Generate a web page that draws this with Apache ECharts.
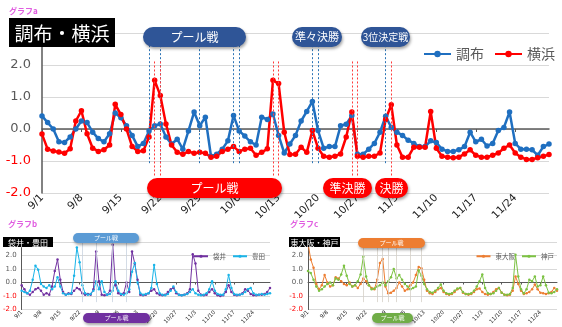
<!DOCTYPE html>
<html><head><meta charset="utf-8">
<script src="https://cdn.jsdelivr.net/npm/echarts@6/dist/echarts.min.js"></script>
<style>html,body{margin:0;padding:0;background:#fff}#c{width:562px;height:327px}</style>
</head><body><div id="c"></div>
<script>
const days = [];
[[9,30],[10,31],[11,30]].forEach(function(p){for(var d=1;d<=p[1];d++)days.push(p[0]+'/'+d);});

const chofu = [0.41,0.2,0.0,-0.4,-0.42,-0.25,0.0,0.25,0.2,-0.1,-0.3,-0.4,-0.15,0.5,0.35,0.1,-0.2,-0.55,-0.45,-0.06,
0.1,0.16,-0.25,-0.47,-0.32,-0.63,-0.06,0.53,0.1,0.37,-0.85,-0.79,-0.63,-0.37,0.42,-0.06,-0.22,-0.4,-0.5,0.37,
0.3,0.47,-0.2,-0.75,-0.47,-0.2,0.25,0.55,0.86,-0.05,-0.6,-0.55,-0.55,0.1,0.15,0.42,-0.79,-0.79,-0.63,-0.45,
-0.1,0.4,0.05,-0.1,-0.2,-0.35,-0.45,-0.55,-0.55,-0.37,-0.42,-0.63,-0.7,-0.7,-0.65,-0.55,-0.1,-0.4,-0.32,-0.53,
-0.45,-0.05,0.05,0.53,-0.45,-0.63,-0.63,-0.65,-0.82,-0.55,-0.47];
const yokohama = [-0.16,-0.63,-0.69,-0.72,-0.76,-0.62,0.25,0.57,-0.15,-0.6,-0.7,-0.65,-0.5,0.77,0.45,0.0,-0.55,-0.7,-0.68,-0.25,
1.52,1.05,0.16,-0.5,-0.73,-0.79,-0.7,-0.76,-0.73,-0.76,-0.88,-0.85,-0.7,-0.63,-0.55,-0.7,-0.63,-0.6,-0.82,-0.73,
-0.62,1.52,1.42,-0.1,-0.8,-0.79,-0.57,-0.73,-0.05,-0.6,-0.85,-0.88,-0.85,-0.78,-0.25,0.53,-0.85,-0.88,-0.85,-0.85,
-0.75,0.3,0.76,-0.5,-0.88,-0.88,-0.57,-0.57,-0.57,0.55,-0.6,-0.85,-0.88,-0.9,-0.88,-0.78,-0.65,-0.82,-0.88,-0.88,
-0.82,-0.75,-0.6,-0.5,-0.75,-0.88,-0.95,-0.95,-0.9,-0.85,-0.8];
const fukuroi = [-0.2,-0.5,-0.8,-0.9,-0.7,-0.5,-0.4,-0.6,-0.9,-0.8,-0.9,-0.3,0.85,1.7,0.2,-0.7,-0.9,-0.8,-0.85,-0.6,
-0.4,-0.5,-0.8,-0.9,-0.85,-0.9,-0.5,2.3,0.1,-0.9,-0.95,-0.9,-0.6,2.8,-0.2,-0.8,-0.9,-0.8,0.0,-0.7,
2.3,1.4,0.2,-0.9,-0.95,-0.9,-0.8,-0.6,-0.5,-0.8,-0.9,-0.95,-0.9,-0.7,-0.5,-0.4,-0.8,-0.9,-0.95,-0.9,
-0.8,-0.5,2.1,1.4,-0.6,-0.9,-0.95,-0.9,-0.7,-0.5,-0.8,-0.95,-1.0,-0.95,-0.7,-0.2,-0.7,-0.9,-0.95,-0.9,
-0.8,-0.5,-0.6,-0.85,-0.95,-0.95,-0.9,-0.9,-0.85,-0.7,-0.4];
const toyota = [-0.6,-0.7,-0.8,-0.6,0.2,1.25,0.95,-0.1,-0.3,-0.4,-0.2,-0.5,-0.3,0.4,-0.3,-0.8,-0.9,-0.85,-0.8,0.5,
2.6,1.5,-0.2,-0.8,-0.9,-0.85,-0.6,0.1,-0.5,0.1,-0.7,-0.9,-0.85,-0.6,0.1,-0.6,-0.85,-0.9,-0.8,-0.5,
0.8,1.45,0.0,-0.8,-0.9,-0.85,-0.8,-0.4,1.3,-0.1,-0.8,-0.9,-0.95,-0.85,-0.6,-0.3,-0.7,-0.9,-0.95,-0.9,
-0.85,-0.7,-0.5,-0.8,-0.9,-0.95,-0.9,-0.8,-0.5,0.1,-0.6,-0.85,-0.9,-0.9,-0.5,0.55,-0.4,-0.85,-0.9,-0.9,
-0.85,-0.7,-0.5,-0.4,-0.8,-0.9,-0.9,-0.85,-0.9,-0.85,-0.8];
const higashiOsaka = [2.9,1.7,1.1,-0.1,-0.5,-0.2,0.55,0.0,-0.3,-0.2,0.4,0.3,0.1,-0.1,-0.2,0.0,-0.3,-0.2,-0.4,-0.1,
0.3,0.1,-0.2,-0.4,-0.5,0.2,1.45,1.75,-0.3,-0.8,-0.75,-0.6,-0.4,0.0,-0.3,-0.6,-0.5,-0.2,0.0,0.55,
1.15,1.05,0.2,-0.6,-0.8,-0.85,-0.7,-0.5,-0.4,-0.7,-0.85,-0.9,-0.85,-0.7,-0.5,-0.4,-0.75,-0.85,-0.9,-0.85,
-0.7,-0.5,-0.45,-0.7,-0.85,-0.9,-0.85,-0.7,-0.5,-0.4,-0.75,-0.9,-0.95,-0.9,-0.6,0.45,-0.1,-0.6,-0.85,-0.8,
-0.7,-0.5,-0.15,-0.5,-0.75,-0.8,-0.85,-0.8,-0.7,-0.4,-0.6];
const kobe = [0.85,0.7,0.2,-0.3,-0.6,-0.5,-0.3,-0.1,0.0,-0.2,0.3,0.2,0.6,1.25,0.5,-0.1,-0.3,-0.2,0.1,0.6,
1.9,0.45,-0.2,-0.5,-0.45,-0.3,-0.2,0.0,-0.2,0.1,0.4,1.0,0.3,0.55,0.2,-0.1,-0.3,-0.5,-0.4,-0.3,
0.9,0.5,-0.1,-0.5,-0.7,-0.75,-0.6,-0.4,-0.15,-0.6,-0.8,-0.85,-0.8,-0.6,-0.45,-0.4,-0.7,-0.85,-0.85,-0.8,
-0.6,-0.3,0.1,0.6,-0.4,-0.8,-0.85,-0.8,-0.6,-0.4,-0.75,-0.9,-0.9,-0.85,-0.4,2.05,0.45,-0.5,-0.8,-0.5,
0.2,0.1,0.45,-0.3,-0.2,0.45,-0.2,-0.75,-0.8,-0.7,-0.5];

const chofuMatchDays = ['9/20','9/22','9/29','10/5','10/6','10/19','10/20','11/1'];
const yokohamaMatchDays = ['9/21','9/22','10/12','10/13','10/26','10/27','11/2'];
const bMatchDays = ['9/23','9/28','10/4','10/9'];
const cMatchDays = ['9/21','9/26','9/28','9/30','10/3','10/8','10/12'];

const FONT = '"Noto Sans CJK JP", "Noto Sans", sans-serif';
const NUMF = '"DejaVu Sans", sans-serif';
const C = {chofu:'#1f6fc0', yoko:'#ff0000', fuku:'#7030a0', toyo:'#1ab4e8', osaka:'#ed7d31', kobe:'#7cc242'};

function vline(list, top, bottom){
  return list.map(function(d){return [{coord:[d, top]},{coord:[d, bottom]}];});
}
function yAx(gi, fs){
  return {type:'value', gridIndex:gi, min:-2, max:3, interval:1,
    axisLine:{show:true, lineStyle:{color:'#595959', width: gi===0?1.5:1}},
    axisTick:{show:false},
    splitLine:{lineStyle:{color:'#d9d9d9', width:1}},
    axisLabel:{fontSize:fs, fontFamily:NUMF, margin: gi===0?11:5,
      formatter:function(v){return v===3?'':v.toFixed(1);},
      color:function(v){return Number(v)<0?'#ff0000':'#595959';}}};
}
function xAx(gi, fs){
  return {type:'category', gridIndex:gi, data:days, boundaryGap:false,
    axisLine:{onZero:true, lineStyle:{color:'#595959', width: gi===0?1.5:1}},
    axisTick:{show:true, interval:6, length: gi===0?3:2, lineStyle:{color:'#595959'}},
    axisLabel:{interval:6, rotate:45, fontSize:fs, fontFamily:NUMF, color:'#222', margin: gi===0?3:2}};
}
function line(name, data, color, gi, size, width, extra){
  var s = {type:'line', name:name, data:data, xAxisIndex:gi, yAxisIndex:gi,
    symbol:'circle', symbolSize:size, showSymbol:true, showAllSymbol:true,
    lineStyle:{color:color, width:width}, itemStyle:{color:color}, z: 3};
  if (extra) s.markLine = extra;
  return s;
}
function pill(x, y, w, h, fill, text, fs){
  return [{type:'rect', z:100, shape:{x:x, y:y, width:w, height:h, r:h/2},
    style:{fill:fill, shadowBlur:3, shadowOffsetY:2, shadowOffsetX:1, shadowColor:'rgba(0,0,0,0.35)'}},
    {type:'text', z:101, x:x+w/2, y:y+h/2, style:{text:text, fill:'#fff', font: fs+'px '+FONT, align:'center', verticalAlign:'middle'}}];
}
function box(x, y, w, h, text, fs){
  return [{type:'rect', z:100, shape:{x:x, y:y, width:w, height:h}, style:{fill:'#000'}},
    {type:'text', z:101, x:x+w/2, y:y+h/2+1, style:{text:text, fill:'#fff', font: fs+'px '+FONT, align:'center', verticalAlign:'middle'}}];
}
function label(x, y, text, fs){
  return {type:'text', z:101, x:x, y:y, style:{text:text, fill:'#e05ce0', font:'bold '+fs+'px '+FONT, align:'left', verticalAlign:'middle'}};
}

const chart = echarts.init(document.getElementById('c'), null, {renderer:'canvas'});
chart.setOption({
  animation:false,
  backgroundColor:'#fff',
  grid:[{left:42, top:33, width:507, height:160},
        {left:21, top:242, width:249, height:79.5},
        {left:308, top:242, width:249, height:79.5}],
  xAxis:[xAx(0,10.5), xAx(1,5.5), xAx(2,5.5)],
  yAxis:[yAx(0,13), yAx(1,7), yAx(2,7)],
  legend:[
    {data:['調布','横浜'], right:2, top:42, itemWidth:27, itemHeight:8, itemGap:10, textStyle:{fontSize:14, color:'#595959', fontFamily:FONT}},
    {data:['袋井','豊田'], right:292, top:248, itemWidth:14, itemHeight:4, itemGap:6, textStyle:{fontSize:6.5, color:'#595959', fontFamily:FONT}},
    {data:['東大阪','神戸'], right:3, top:248, itemWidth:14, itemHeight:4, itemGap:6, textStyle:{fontSize:6.5, color:'#595959', fontFamily:FONT}}
  ],
  series:[
    line('調布', chofu, C.chofu, 0, 5.5, 2.5, {silent:true, symbol:'none', label:{show:false},
      lineStyle:{type:[2,2], color:'#2e75b6', width:1}, data: vline(chofuMatchDays, 2.62, -1.1)}),
    line('横浜', yokohama, C.yoko, 0, 5.5, 2.5, {silent:true, symbol:'none', label:{show:false},
      lineStyle:{type:[2,2], color:'#ff3b3b', width:1}, data: vline(yokohamaMatchDays, 2.11, -1.51)}),
    line('袋井', fukuroi, C.fuku, 1, 2.5, 1, {silent:true, symbol:'none', label:{show:false},
      lineStyle:{type:'solid', color:'#c9d3e0', width:0.8}, data: vline(bMatchDays, 2.95, -1.45)}),
    line('豊田', toyota, C.toyo, 1, 2.5, 1),
    line('東大阪', higashiOsaka, C.osaka, 2, 2.5, 1, {silent:true, symbol:'none', label:{show:false},
      lineStyle:{type:'solid', color:'#d6d0c8', width:0.8}, data: vline(cMatchDays, 2.6, -1.45)}),
    line('神戸', kobe, C.kobe, 2, 2.5, 1)
  ],
  graphic: [].concat(
    [label(9, 11, 'グラフa', 8)],
    box(9, 18, 106, 29, '調布・横浜', 19),
    pill(143, 27, 103, 20, '#2f5597', 'プール戦', 12),
    pill(292, 27, 50, 20, '#2f5597', '準々決勝', 11),
    pill(361, 27, 49, 20, '#2f5597', '3位決定戦', 10),
    pill(147, 178, 135, 20, '#ff0000', 'プール戦', 12),
    pill(323, 178, 49, 20, '#ff0000', '準決勝', 12),
    pill(375, 178, 33, 20, '#ff0000', '決勝', 12),
    [label(8, 224, 'グラフb', 8)],
    box(3, 237, 50, 10, '袋井・豊田', 8),
    pill(73, 233, 66, 10, '#5b9bd5', 'プール戦', 6),
    pill(83, 313, 67, 10, '#7030a0', 'プール戦', 6),
    [label(290, 224, 'グラフc', 8)],
    box(289, 237, 51, 10, '東大阪・神戸', 8),
    pill(358, 238, 67, 10, '#ed7d31', 'プール戦', 6),
    pill(372, 313, 41, 10, '#70ad47', 'プール戦', 6)
  )
});
</script>
</body></html>
